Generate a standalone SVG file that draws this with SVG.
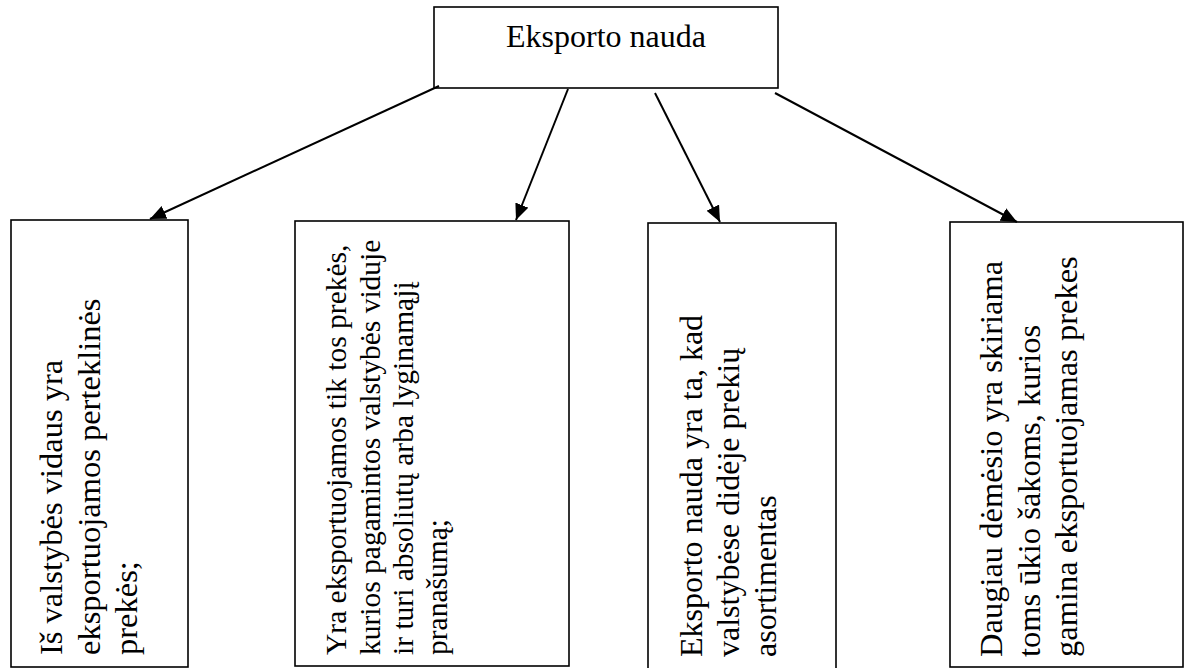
<svg xmlns="http://www.w3.org/2000/svg" width="1186" height="668" viewBox="0 0 1186 668">
<style>
.box{fill:#fff;stroke:#000;stroke-width:1.6}
.t{font-family:"Liberation Serif","Times New Roman","DejaVu Serif",serif;fill:#000}
.c{stroke:#000;stroke-width:2;fill:none;marker-end:url(#ah)}
</style>
<defs>
<marker id="ah" markerUnits="userSpaceOnUse" markerWidth="18" markerHeight="16" refX="16" refY="7" orient="auto">
<path d="M0,0 L16,7 L0,14 z" fill="#000"/>
</marker>
</defs>
<rect width="1186" height="668" fill="#fff"/>
<g id="top">
<rect class="box" x="434" y="7" width="344" height="81"/>
<text class="t" font-family="Liberation Serif, serif" x="606" y="47" font-size="32" text-anchor="middle">Eksporto nauda</text>
</g>
<g id="n1">
<rect class="box" x="11" y="220" width="177" height="447"/>
<text class="t" font-family="Liberation Serif, serif" font-size="32.5" transform="translate(62,655) rotate(-90)"><tspan x="0" y="0">Iš valstybės vidaus yra</tspan><tspan x="0" dy="37.5">eksportuojamos perteklinės</tspan><tspan x="0" dy="37.5">prekės;</tspan></text>
</g>
<g id="n2">
<rect class="box" x="295" y="221" width="274" height="445"/>
<text class="t" font-family="Liberation Serif, serif" font-size="29.5" transform="translate(346,655) rotate(-90)"><tspan x="0" y="0">Yra eksportuojamos tik tos prekės,</tspan><tspan x="0" dy="33.5">kurios pagamintos valstybės viduje</tspan><tspan x="0" dy="33.5">ir turi absoliutų arba lyginamąjį</tspan><tspan x="0" dy="33.5">pranašumą;</tspan></text>
</g>
<g id="n3">
<rect class="box" x="648" y="223" width="188" height="450"/>
<text class="t" font-family="Liberation Serif, serif" font-size="32" transform="translate(702,657) rotate(-90)"><tspan x="0" y="0">Eksporto nauda yra ta, kad</tspan><tspan x="0" dy="37">valstybėse didėje prekių</tspan><tspan x="0" dy="37">asortimentas</tspan></text>
</g>
<g id="n4">
<rect class="box" x="950" y="222" width="233" height="445"/>
<text class="t" font-family="Liberation Serif, serif" font-size="32.5" transform="translate(1002,657) rotate(-90)"><tspan x="0" y="0">Daugiau dėmėsio yra skiriama</tspan><tspan x="0" dy="37.5">toms ūkio šakoms, kurios</tspan><tspan x="0" dy="37.5">gamina eksportuojamas prekes</tspan></text>
</g>
<g id="connectors">
<line class="c" x1="439" y1="86" x2="150" y2="219"/>
<line class="c" x1="568" y1="89" x2="516" y2="220"/>
<line class="c" x1="655" y1="93" x2="720" y2="222"/>
<line class="c" x1="775" y1="93" x2="1017" y2="222"/>
</g>
</svg>
